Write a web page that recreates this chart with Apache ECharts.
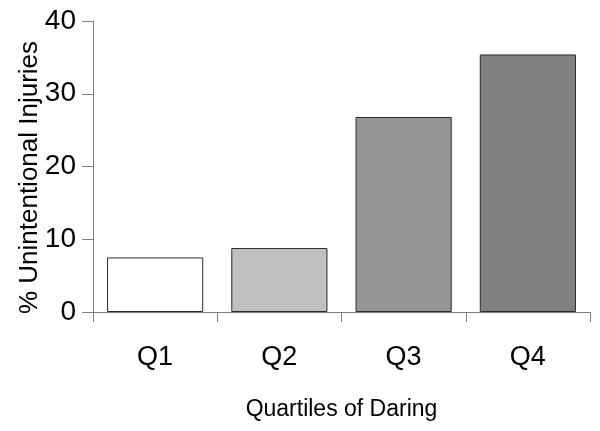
<!DOCTYPE html>
<html><head><meta charset="utf-8">
<script src="https://cdn.jsdelivr.net/npm/echarts@6/dist/echarts.min.js"></script>
<style>html,body{margin:0;padding:0;background:#fff}#c{width:600px;height:431px}</style>
</head><body><div id="c"></div>
<script>
const categories = ['Q1', 'Q2', 'Q3', 'Q4'];
const values = [7.5, 8.8, 26.8, 35.4];
const barColors = ['#ffffff', '#c0c0c0', '#969696', '#808080'];
const yTicks = [0, 10, 20, 30, 40];

const chart = echarts.init(document.getElementById('c'), null, {renderer: 'canvas'});
const font = 'Liberation Sans, Arial, sans-serif';
chart.setOption({
  animation: false,
  backgroundColor: '#fff',
  grid: {left: 93, right: 10, top: 21, bottom: 119, containLabel: false},
  xAxis: {
    type: 'category',
    data: categories,
    name: 'Quartiles of Daring',
    nameLocation: 'middle',
    nameGap: 86,
    nameMoveOverlap: false,
    nameTextStyle: {fontFamily: font, fontSize: 23, color: '#000'},
    axisLine: {lineStyle: {color: '#808080', width: 1}},
    axisTick: {show: true, length: 10, alignWithLabel: false, lineStyle: {color: '#808080'}},
    axisLabel: {fontFamily: font, fontSize: 27, color: '#000', margin: 32}
  },
  yAxis: {
    type: 'value',
    min: yTicks[0],
    max: yTicks[yTicks.length - 1],
    interval: 10,
    name: '% Unintentional Injuries',
    nameLocation: 'middle',
    nameGap: 50,
    nameMoveOverlap: false,
    nameTextStyle: {fontFamily: font, fontSize: 26, color: '#000', padding: [0, 22, 0, 0]},
    axisLine: {show: true, lineStyle: {color: '#808080', width: 1}},
    axisTick: {show: true, length: 11, lineStyle: {color: '#808080'}},
    axisLabel: {fontFamily: font, fontSize: 28, color: '#000', margin: 17},
    splitLine: {show: false}
  },
  series: [{
    type: 'bar',
    data: values.map((v, i) => ({value: v, itemStyle: {color: barColors[i]}})),
    barCategoryGap: '22.6%',
    itemStyle: {borderColor: '#2a2a2a', borderWidth: 1}
  }]
});
</script></body></html>
